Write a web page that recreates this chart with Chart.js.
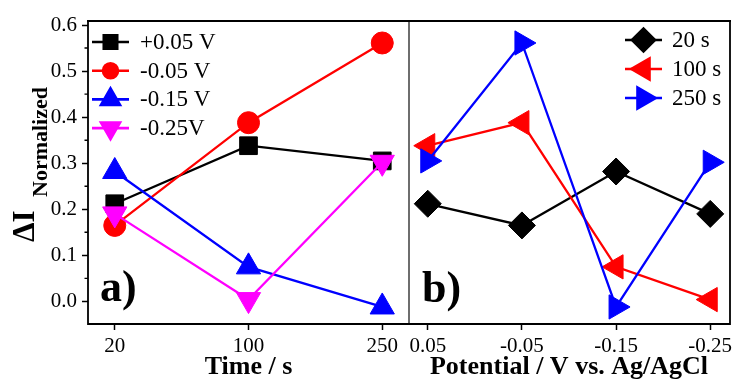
<!DOCTYPE html>
<html>
<head>
<meta charset="utf-8">
<script src="https://cdn.jsdelivr.net/npm/chart.js@4.4.1/dist/chart.umd.min.js"></script>
<style>
  html, body { margin: 0; padding: 0; background: #fff; }
  #wrap { position: relative; width: 735px; height: 380px; overflow: hidden; }
  #cTime { position: absolute; left: 0; top: 0; }
  #cPot { position: absolute; left: 392px; top: 0; }
</style>
</head>
<body>
<div id="wrap">
  <canvas id="cTime" width="425" height="380"></canvas>
  <canvas id="cPot" width="354" height="380"></canvas>
</div>
<script>
// Category labels
const times = ['20', '100', '250'];
const potentials = ['0.05', '-0.05', '-0.15', '-0.25'];
const potentialNames = ['+0.05 V', '-0.05 V', '-0.15 V', '-0.25V'];
const timeNames = ['20 s', '100 s', '250 s'];

// Normalized current change at each potential, for t = 20, 100, 250 s
const dIp005 = [0.212, 0.338, 0.305];
const dIm005 = [0.165, 0.388, 0.561];
const dIm015 = [0.282, 0.075, -0.012];
const dIm025 = [0.190, 0.004, 0.302];

// Shared y axis ticks
const yTicks = [0, 0.1, 0.2, 0.3, 0.4, 0.5, 0.6];
const yMinorTicks = [0.05, 0.15, 0.25, 0.35, 0.45, 0.55];

const SERIF = '"Liberation Serif", "Times New Roman", serif';
const Y_MIN = -0.049, Y_MAX = 0.6087;

const byPotential = [dIp005, dIm005, dIm015, dIm025];
// Same values regrouped by time (rows = time, columns = potential)
const byTime = times.map((t, ti) => byPotential.map(series => series[ti]));

const potStyles = [
  { color: '#000000', pointStyle: 'rect', rotation: 0, radius: 12.5, legendRadius: 9.5 },
  { color: '#ff0000', pointStyle: 'circle', rotation: 0, radius: 11, legendRadius: 7.5 },
  { color: '#0000ff', pointStyle: 'triangle', rotation: 0, radius: 14, legendRadius: 11 },
  { color: '#ff00ff', pointStyle: 'triangle', rotation: 180, radius: 14, legendRadius: 11 }
];
const timeStyles = [
  { color: '#000000', pointStyle: 'rectRot', rotation: 0, radius: 13.5, legendRadius: 11.5 },
  { color: '#ff0000', pointStyle: 'triangle', rotation: -90, radius: 14, legendRadius: 12 },
  { color: '#0000ff', pointStyle: 'triangle', rotation: 90, radius: 14, legendRadius: 12 }
];

function makeDataset(label, values, st, idx, count) {
  return {
    label: label,
    data: values.map((v, i) => ({ x: i, y: v })),
    borderColor: st.color,
    backgroundColor: st.color,
    borderWidth: 2.3,
    pointStyle: st.pointStyle,
    rotation: st.rotation,
    pointRadius: st.radius,
    pointHoverRadius: st.radius,
    pointBorderWidth: 1,
    pointBackgroundColor: st.color,
    pointBorderColor: st.color,
    legendRadius: st.legendRadius,
    tension: 0,
    clip: false,
    order: count - idx
  };
}

// Frame, minor ticks, inset legend, panel letter and y title
const panelDecor = {
  id: 'panelDecor',
  afterDraw(chart, args, opts) {
    const ctx = chart.ctx;
    const a = chart.chartArea;
    const H = Chart.helpers;
    ctx.save();
    // frame
    ctx.lineWidth = 1.8;
    ctx.strokeStyle = '#000';
    ctx.beginPath();
    ctx.moveTo(a.left, a.bottom);
    ctx.lineTo(a.right, a.bottom);
    ctx.moveTo(a.left - 1, a.top);
    ctx.lineTo(a.right + 1, a.top);
    if (opts.leftAxis) {
      ctx.moveTo(a.left, a.top);
      ctx.lineTo(a.left, a.bottom + 1);
    }
    if (opts.rightEdge) {
      ctx.moveTo(a.right, a.top);
      ctx.lineTo(a.right, a.bottom + 1);
    }
    ctx.stroke();
    if (opts.divider) {
      ctx.strokeStyle = '#4a4a4a';
      ctx.lineWidth = 1.6;
      ctx.beginPath();
      ctx.moveTo(a.right, a.top);
      ctx.lineTo(a.right, a.bottom);
      ctx.stroke();
    }
    // minor ticks on the y axis
    if (opts.leftAxis) {
      const ys = chart.scales.y;
      ctx.strokeStyle = '#000';
      ctx.lineWidth = 1.4;
      ctx.beginPath();
      yMinorTicks.forEach(v => {
        const py = ys.getPixelForValue(v);
        ctx.moveTo(a.left, py);
        ctx.lineTo(a.left - 3.5, py);
      });
      ctx.stroke();
    }
    // legend
    const lg = opts.legend;
    ctx.font = lg.fontSize + 'px ' + SERIF;
    ctx.textBaseline = 'middle';
    ctx.textAlign = 'left';
    chart.data.datasets.forEach((ds, i) => {
      const y = lg.y + i * lg.rowGap;
      const x0 = a.left + lg.dx;
      ctx.strokeStyle = ds.borderColor;
      ctx.lineWidth = 2.6;
      ctx.beginPath();
      ctx.moveTo(x0, y);
      ctx.lineTo(x0 + lg.lineLen, y);
      ctx.stroke();
      ctx.fillStyle = ds.backgroundColor;
      ctx.strokeStyle = ds.borderColor;
      H.drawPoint(ctx, {
        pointStyle: ds.pointStyle,
        rotation: ds.rotation,
        radius: ds.legendRadius,
        borderWidth: 1
      }, x0 + lg.lineLen / 2, y);
      ctx.fillStyle = '#000';
      ctx.fillText(ds.label, x0 + lg.lineLen + lg.textGap, y + 1);
    });
    // panel letter
    ctx.fillStyle = '#000';
    ctx.font = 'bold 44px ' + SERIF;
    ctx.textBaseline = 'alphabetic';
    ctx.fillText(opts.letter.text, a.left + opts.letter.dx, opts.letter.y);
    // y axis title with subscript
    if (opts.yTitle) {
      const t = opts.yTitle;
      ctx.translate(t.x, t.y);
      ctx.rotate(-Math.PI / 2);
      ctx.font = 'bold ' + t.mainSize + 'px ' + SERIF;
      ctx.fillText(t.main, 0, 0);
      ctx.font = 'bold ' + t.subSize + 'px ' + SERIF;
      ctx.fillText(t.sub, t.subOffset, t.subShift);
    }
    ctx.restore();
  }
};

function xScale(labels, minV, maxV, title) {
  return {
    type: 'linear',
    min: minV,
    max: maxV,
    afterBuildTicks: s => { s.ticks = labels.map((l, i) => ({ value: i })); },
    afterFit: s => { s.height = 56; s.paddingLeft = 0; s.paddingRight = 0; },
    ticks: {
      callback: v => labels[v],
      font: { family: SERIF, size: 21 },
      color: '#000',
      padding: 4,
      maxRotation: 0,
      autoSkip: false
    },
    grid: {
      drawOnChartArea: false,
      drawTicks: true,
      tickLength: 6,
      tickColor: '#000',
      tickWidth: 1.5
    },
    border: { display: false },
    title: {
      display: true,
      text: title,
      color: '#000',
      font: { family: SERIF, size: 26, weight: 'bold', lineHeight: 1.0 },
      padding: { top: 0, bottom: 0 }
    }
  };
}

function yScale(show) {
  return {
    min: Y_MIN,
    max: Y_MAX,
    display: show,
    afterBuildTicks: s => { s.ticks = yTicks.map(v => ({ value: v })); },
    afterFit: s => {
      if (show) { s.width = 88; }
      s.paddingTop = 0;
      s.paddingBottom = 0;
    },
    ticks: {
      callback: v => v.toFixed(1),
      font: { family: SERIF, size: 21 },
      color: '#000',
      padding: 5
    },
    grid: {
      drawOnChartArea: false,
      drawTicks: true,
      tickLength: 6,
      tickColor: '#000',
      tickWidth: 1.5
    },
    border: { display: false }
  };
}

const common = {
  responsive: false,
  devicePixelRatio: 1,
  animation: false,
  events: []
};

// Time panel: plot area spans x 88..409, y 21..324
new Chart(document.getElementById('cTime'), {
  type: 'line',
  data: {
    datasets: byPotential.map((vals, i) =>
      makeDataset(potentialNames[i], vals, potStyles[i], i, byPotential.length))
  },
  options: Object.assign({}, common, {
    layout: { padding: { top: 21, right: 16, left: 0, bottom: 0 } },
    scales: {
      x: xScale(times, -0.2, 2.2, 'Time / s'),
      y: yScale(true)
    },
    plugins: {
      legend: { display: false },
      tooltip: { enabled: false },
      panelDecor: {
        leftAxis: true,
        divider: true,
        legend: { dx: 4, y: 42, rowGap: 28.7, lineLen: 37, textGap: 11, fontSize: 23 },
        letter: { text: 'a)', dx: 12, y: 301 },
        yTitle: { main: 'ΔI', sub: 'Normalized', x: 34, y: 242, mainSize: 31, subSize: 22, subShift: 12.5, subOffset: 45 }
      }
    }
  }),
  plugins: [panelDecor]
});

// Potential panel: plot area spans x 408..730 on the page
new Chart(document.getElementById('cPot'), {
  type: 'line',
  data: {
    datasets: byTime.map((vals, i) =>
      makeDataset(timeNames[i], vals, timeStyles[i], i, byTime.length))
  },
  options: Object.assign({}, common, {
    layout: { padding: { top: 21, right: 16, left: 16, bottom: 0 } },
    scales: {
      x: xScale(potentials, -0.21, 3.21, 'Potential / V vs. Ag/AgCl'),
      y: yScale(false)
    },
    plugins: {
      legend: { display: false },
      tooltip: { enabled: false },
      panelDecor: {
        leftAxis: false,
        rightEdge: true,
        legend: { dx: 217, y: 40, rowGap: 29, lineLen: 37, textGap: 10, fontSize: 23 },
        letter: { text: 'b)', dx: 14, y: 302 }
      }
    }
  }),
  plugins: [panelDecor]
});
</script>
</body>
</html>
